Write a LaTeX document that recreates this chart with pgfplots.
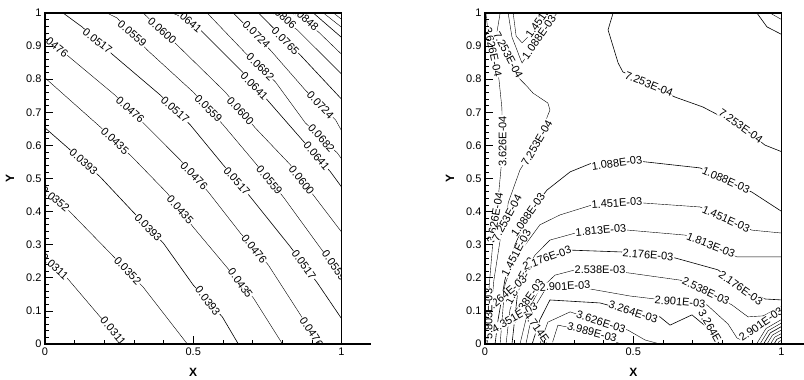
\documentclass[border=0pt]{standalone}
\usepackage{fontspec}
\setmainfont{Liberation Sans}
\usepackage{pgfplots}
\pgfplotsset{compat=1.18}
\tikzset{lab/.style={fill=white, inner sep=0.6pt, font=\fontsize{11}{12}\selectfont}}
\begin{document}
\begin{tikzpicture}
\path[use as bounding box] (0pt,0pt) rectangle (804pt,380pt);
\pgfplotsset{
  tec/.style={
    width=296.5pt, height=331pt, scale only axis,
    xmin=0,xmax=1,ymin=0,ymax=1,
    xtick={0,0.5,1}, minor x tick num=4,
    ytick={0,0.1,0.2,0.3,0.4,0.5,0.6,0.7,0.8,0.9,1}, minor y tick num=4,
    tick align=inside, xtick pos=bottom, ytick pos=left,
    major tick length=8pt, minor tick length=4pt,
    every tick/.style={black, line width=0.7pt},
    axis line style={line width=1.2pt},
    ticklabel style={font=\fontsize{11}{13}\selectfont},
    /pgf/number format/assume math mode=true,
    xlabel={X}, ylabel={Y},
    label style={font=\fontsize{12}{14}\selectfont\bfseries},
    xlabel style={at={(axis description cs:0.5,-0.085)}, anchor=center},
    ylabel style={at={(axis description cs:-0.118,0.5)}, anchor=center},
    axis on top,
    cycle list={{black,solid,line width=0.6pt}},
    every axis plot/.append style={no marks},
  }
}
% ---------------- left plot ----------------
\begin{axis}[tec, name=L, at={(45pt,36pt)}, anchor=south west]
\addplot coordinates {(0,0.26) (0.074,0.20) (0.186,0.082) (0.23,0.042) (0.27,0)};
\addplot coordinates {(0,0.465) (0.078,0.405) (0.226,0.269) (0.331,0.172) (0.48,0)};
\addplot coordinates {(0,0.653) (0.074,0.595) (0.186,0.505) (0.297,0.399) (0.399,0.305) (0.5,0.178) (0.598,0.082) (0.652,0)};
\addplot coordinates {(0,0.804) (0.186,0.656) (0.294,0.565) (0.412,0.456) (0.5,0.353) (0.615,0.23) (0.703,0.139) (0.801,0)};
\addplot coordinates {(0,0.918) (0.074,0.873) (0.236,0.752) (0.338,0.662) (0.456,0.556) (0.551,0.459) (0.659,0.335) (0.753,0.239) (0.868,0.079) (0.936,0)};
\addplot coordinates {(0.061,1) (0.125,0.958) (0.23,0.873) (0.389,0.752) (0.49,0.662) (0.601,0.541) (0.693,0.444) (0.828,0.293) (0.919,0.184) (1.003,0.073)};
\addplot coordinates {(0.209,1) (0.243,0.985) (0.345,0.888) (0.5,0.761) (0.601,0.662) (0.709,0.547) (0.804,0.444) (0.929,0.29) (1.02,0.184)};
\addplot coordinates {(0.331,1) (0.345,0.988) (0.446,0.903) (0.608,0.761) (0.709,0.653) (0.828,0.541) (0.905,0.45) (1.003,0.335)};
\addplot coordinates {(0.439,1.01) (0.524,0.949) (0.666,0.822) (0.75,0.737) (0.868,0.616) (0.963,0.52) (1.003,0.471)};
\addplot coordinates {(0.547,1) (0.676,0.879) (0.777,0.792) (0.878,0.668) (0.986,0.577) (1.003,0.556)};
\addplot coordinates {(0.635,1) (0.76,0.888) (0.878,0.767) (0.98,0.677) (1.003,0.64)};
\addplot coordinates {(0.72,1) (0.861,0.873) (1.003,0.737)};
\addplot coordinates {(0.767,1) (0.851,0.949) (1.003,0.813)};
\addplot coordinates {(0.834,1) (0.922,0.943) (1.003,0.873)};
\addplot coordinates {(0.905,1) (1.003,0.924)};
\addplot coordinates {(0.939,1) (1.003,0.955)};
\addplot coordinates {(0.973,1) (1.003,0.979)};
\node[lab,rotate=-42] at (axis cs:0.032,0.234) {0.0311};
\node[lab,rotate=-50] at (axis cs:0.23,0.039) {0.0311};
\node[lab,rotate=-40] at (axis cs:0.034,0.438) {0.0352};
\node[lab,rotate=-46] at (axis cs:0.279,0.221) {0.0352};
\node[lab,rotate=-42] at (axis cs:0.13,0.55) {0.0393};
\node[lab,rotate=-46] at (axis cs:0.348,0.352) {0.0393};
\node[lab,rotate=-53] at (axis cs:0.549,0.13) {0.0393};
\node[lab,rotate=-43] at (axis cs:0.236,0.613) {0.0435};
\node[lab,rotate=-48] at (axis cs:0.456,0.405) {0.0435};
\node[lab,rotate=-54] at (axis cs:0.659,0.184) {0.0435};
\node[lab,rotate=-38] at (axis cs:0.029,0.905) {0.0476};
\node[lab,rotate=-42] at (axis cs:0.287,0.707) {0.0476};
\node[lab,rotate=-46] at (axis cs:0.503,0.508) {0.0476};
\node[lab,rotate=-52] at (axis cs:0.706,0.287) {0.0476};
\node[lab,rotate=-57] at (axis cs:0.899,0.036) {0.0476};
\node[lab,rotate=-38] at (axis cs:0.177,0.915) {0.0517};
\node[lab,rotate=-42] at (axis cs:0.439,0.707) {0.0517};
\node[lab,rotate=-48] at (axis cs:0.647,0.492) {0.0517};
\node[lab,rotate=-55] at (axis cs:0.873,0.239) {0.0517};
\node[lab,rotate=-40] at (axis cs:0.294,0.937) {0.0559};
\node[lab,rotate=-45] at (axis cs:0.551,0.711) {0.0559};
\node[lab,rotate=-50] at (axis cs:0.757,0.495) {0.0559};
\node[lab,rotate=-55] at (axis cs:0.975,0.237) {0.0559};
\node[lab,rotate=-42] at (axis cs:0.395,0.946) {0.0600};
\node[lab,rotate=-47] at (axis cs:0.659,0.704) {0.0600};
\node[lab,rotate=-52] at (axis cs:0.865,0.495) {0.0600};
\node[lab,rotate=-40] at (axis cs:0.48,0.979) {0.0641};
\node[lab,rotate=-45] at (axis cs:0.706,0.779) {0.0641};
\node[lab,rotate=-50] at (axis cs:0.916,0.568) {0.0641};
\node[lab,rotate=-44] at (axis cs:0.726,0.837) {0.0682};
\node[lab,rotate=-48] at (axis cs:0.932,0.622) {0.0682};
\node[lab,rotate=-45] at (axis cs:0.713,0.935) {0.0724};
\node[lab,rotate=-47] at (axis cs:0.929,0.722) {0.0724};
\node[lab,rotate=-45] at (axis cs:0.811,0.915) {0.0765};
\node[lab,rotate=-42] at (axis cs:0.80,0.991) {0.0806};
\node[lab,rotate=-42] at (axis cs:0.875,0.985) {0.0848};
\end{axis}
\draw[line width=1.2pt] (L.south east) -- ++(29pt,0pt);
% ---------------- right plot ----------------
\begin{axis}[tec, name=R, at={(485pt,36pt)}, anchor=south west]
% 3.626E-04
\addplot coordinates {(0.003,1) (0.008,0.96) (0.047,0.80) (0.057,0.713) (0.059,0.612) (0.054,0.53) (0.044,0.435) (0.034,0.381) (0.027,0.314) (0.013,0.163) (0.003,0)};
% 7.253E-04 left
\addplot coordinates {(0.051,1) (0.04,0.94) (0.078,0.873) (0.118,0.80) (0.14,0.78) (0.162,0.758) (0.212,0.728) (0.219,0.707) (0.175,0.607) (0.118,0.526) (0.078,0.426) (0.074,0.381) (0.051,0.314) (0.03,0.193) (0.017,0.073) (0.007,0)};
% 7.253E-04 right
\addplot coordinates {(0.432,1) (0.415,0.949) (0.449,0.849) (0.465,0.822) (0.553,0.785) (0.641,0.746) (0.735,0.716) (0.786,0.692) (0.863,0.659) (0.944,0.601) (1.003,0.58)};
% 1.088E-03 top
\addplot coordinates {(0.078,1) (0.091,0.927) (0.108,0.888) (0.118,0.864) (0.125,0.849) (0.182,0.927) (0.243,1) (0.26,1.03)};
% 1.451E-03 top
\addplot coordinates {(0.095,1) (0.105,0.93) (0.125,0.91) (0.142,0.925) (0.194,0.991) (0.22,1.03)};
% 1.088E-03
\addplot coordinates {(1.003,0.399) (0.9,0.459) (0.813,0.495) (0.725,0.532) (0.533,0.551) (0.445,0.547) (0.361,0.547) (0.287,0.52) (0.209,0.465) (0.145,0.39) (0.101,0.299) (0.067,0.193) (0.044,0.073) (0.034,0)};
% 1.451E-03
\addplot coordinates {(1.003,0.335) (0.9,0.344) (0.813,0.378) (0.725,0.414) (0.533,0.426) (0.445,0.426) (0.361,0.42) (0.253,0.39) (0.185,0.36) (0.135,0.299) (0.105,0.275) (0.067,0.178) (0.051,0)};
% 1.813E-03
\addplot coordinates {(1.003,0.263) (0.85,0.263) (0.762,0.299) (0.675,0.329) (0.482,0.344) (0.391,0.344) (0.304,0.335) (0.219,0.314) (0.169,0.269) (0.118,0.193) (0.084,0.103) (0.071,0)};
% 2.176E-03
\addplot coordinates {(1.003,0.133) (0.944,0.136) (0.863,0.169) (0.786,0.224) (0.641,0.26) (0.55,0.269) (0.462,0.278) (0.277,0.284) (0.209,0.26) (0.142,0.23) (0.111,0.163) (0.091,0)};
% 2.538E-03
\addplot coordinates {(1.003,0.115) (0.938,0.085) (0.887,0.082) (0.833,0.118) (0.745,0.16) (0.658,0.193) (0.482,0.215) (0.388,0.224) (0.304,0.224) (0.236,0.208) (0.18,0.16) (0.145,0.1) (0.118,0)};
% 2.901E-03
\addplot coordinates {(0.138,0) (0.162,0.103) (0.202,0.163) (0.27,0.175) (0.337,0.169) (0.489,0.145) (0.658,0.127) (0.749,0.118) (0.82,0.06) (0.85,0.018) (0.865,0.012) (0.931,0.06) (1.003,0.097)};
% 3.264E-03
\addplot coordinates {(0.159,0) (0.185,0.073) (0.219,0.133) (0.388,0.124) (0.5,0.097) (0.59,0.082) (0.624,0.057) (0.698,0.088) (0.772,0.033) (0.80,0)};
% 3.626E-03
\addplot coordinates {(0.185,0) (0.212,0.066) (0.287,0.097) (0.391,0.066) (0.482,0.042) (0.54,0.012) (0.59,0)};
% 3.989E-03
\addplot coordinates {(0.226,0) (0.246,0.057) (0.361,0.036) (0.449,0.003) (0.46,0)};
% top right corner
\addplot coordinates {(0.917,1) (0.951,0.958) (1.003,0.934)};
\addplot coordinates {(0.961,1) (1.003,0.979)};
% bottom right corner
\addplot coordinates {(0.9865,0) (0.9916,0.0075) (1.003,0.0121)};
\addplot coordinates {(0.9747,0) (0.9843,0.0141) (1.003,0.0227)};
\addplot coordinates {(0.9629,0) (0.977,0.0206) (1.003,0.0332)};
\addplot coordinates {(0.9511,0) (0.9697,0.0272) (1.003,0.0438)};
\addplot coordinates {(0.9393,0) (0.9624,0.0337) (1.003,0.0544)};
\addplot coordinates {(0.9275,0) (0.955,0.0403) (1.003,0.065)};
\addplot coordinates {(0.9157,0) (0.9477,0.0468) (1.003,0.0755)};
% labels
\node[lab,rotate=-78] at (axis cs:0.027,0.882) {3.626E-04};
\node[lab,rotate=90] at (axis cs:0.059,0.612) {3.626E-04};
\node[lab,rotate=80] at (axis cs:0.034,0.381) {3.626E-04};
\node[lab,rotate=-62] at (axis cs:0.078,0.873) {7.253E-04};
\node[lab,rotate=60] at (axis cs:0.175,0.607) {7.253E-04};
\node[lab,rotate=62] at (axis cs:0.074,0.381) {7.253E-04};
\node[lab,rotate=-22] at (axis cs:0.553,0.785) {7.253E-04};
\node[lab,rotate=-35] at (axis cs:0.863,0.659) {7.253E-04};
\node[lab,rotate=55] at (axis cs:0.182,0.927) {1.088E-03};
\node[lab,rotate=55] at (axis cs:0.194,0.991) {1.451E-03};
\node[lab,rotate=8] at (axis cs:0.445,0.547) {1.088E-03};
\node[lab,rotate=-24] at (axis cs:0.813,0.495) {1.088E-03};
\node[lab,rotate=55] at (axis cs:0.145,0.39) {1.088E-03};
\node[lab,rotate=-24] at (axis cs:0.813,0.378) {1.451E-03};
\node[lab,rotate=4] at (axis cs:0.445,0.426) {1.451E-03};
\node[lab,rotate=62] at (axis cs:0.105,0.275) {1.451E-03};
\node[lab,rotate=-22] at (axis cs:0.762,0.299) {1.813E-03};
\node[lab,rotate=5] at (axis cs:0.391,0.344) {1.813E-03};
\node[lab,rotate=62] at (axis cs:0.118,0.19) {1.813E-03};
\node[lab,rotate=-35] at (axis cs:0.863,0.169) {2.176E-03};
\node[lab,rotate=-5] at (axis cs:0.55,0.269) {2.176E-03};
\node[lab,rotate=20] at (axis cs:0.209,0.26) {2.176E-03};
\node[lab,rotate=-25] at (axis cs:0.745,0.16) {2.538E-03};
\node[lab,rotate=0] at (axis cs:0.388,0.224) {2.538E-03};
\node[lab,rotate=55] at (axis cs:0.14,0.13) {2.538E-03};
\node[lab,rotate=3] at (axis cs:0.27,0.175) {2.901E-03};
\node[lab,rotate=-5] at (axis cs:0.658,0.127) {2.901E-03};
\node[lab,rotate=35] at (axis cs:0.931,0.06) {2.901E-03};
\node[lab,rotate=-18] at (axis cs:0.5,0.097) {3.264E-03};
\node[lab,rotate=-60] at (axis cs:0.772,0.033) {3.264E-03};
\node[lab,rotate=40] at (axis cs:0.07,0.15) {3.264E-03};
\node[lab,rotate=-18] at (axis cs:0.391,0.066) {3.626E-03};
\node[lab,rotate=-15] at (axis cs:0.361,0.036) {3.989E-03};
\node[lab,rotate=30] at (axis cs:0.1,0.08) {4.351E-03};
\node[lab,rotate=-55] at (axis cs:0.19,0.03) {4.714E-03};
\node[lab,rotate=90] at (axis cs:0.012,0.09) {5.803E-03};
\end{axis}
\draw[line width=1.2pt] (R.south east) -- ++(22pt,0pt);
\end{tikzpicture}
\end{document}
